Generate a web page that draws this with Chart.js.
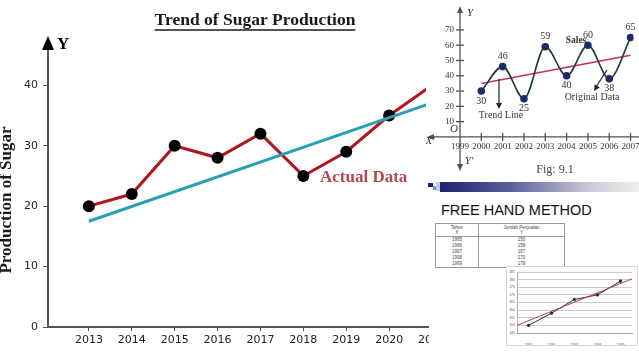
<!DOCTYPE html>
<html>
<head>
<meta charset="utf-8">
<script src="https://cdn.jsdelivr.net/npm/chart.js@4/dist/chart.umd.min.js"></script>
<style>
  html,body{margin:0;padding:0;background:#fff;}
  body{width:639px;height:360px;overflow:hidden;position:relative;}
  .abs{position:absolute;}
  #tbl{border-collapse:collapse;font-family:"Liberation Sans",Arial,sans-serif;font-size:4.5px;color:#444;width:130px;}
  #tbl td{padding:0;text-align:center;height:6px;line-height:6px;border-left:1px solid #999;border-right:1px solid #999;}
  #tbl tr.h td{height:12px;line-height:5.5px;border-top:1px solid #999;border-bottom:1px solid #999;}
  #tbl tr:last-child td{border-bottom:1px solid #999;}
</style>
</head>
<body>
<canvas id="c1" class="abs" width="460" height="360" style="left:0;top:0;"></canvas>
<canvas id="c2" class="abs" width="213" height="180" style="left:426px;top:0;background:#fff;"></canvas>
<div class="abs" style="left:426px;top:180px;width:213px;height:12px;background:#fff;"></div>
<div class="abs" style="left:440px;top:182px;width:199px;height:10px;background:linear-gradient(to right,#1c2272 0%,#5a5f9a 35%,#c9cad8 75%,#eeeeee 100%);"></div>
<div class="abs" style="left:428px;top:183px;width:5px;height:4px;background:#1c2272;"></div>
<div class="abs" style="left:433px;top:186px;width:4px;height:4px;background:#8a8fc0;"></div>
<div class="abs" style="left:436px;top:182px;width:4px;height:9px;background:#c9cbe6;"></div>
<div class="abs" style="left:429px;top:192px;width:210px;height:168px;background:#fff;"></div>
<div class="abs" style="left:441px;top:202px;font-family:'Liberation Sans',Arial,sans-serif;font-size:14.5px;color:#111;line-height:16px;">FREE HAND METHOD</div>
<table id="tbl" class="abs" style="left:435px;top:223px;"></table>
<canvas id="c3" class="abs" width="130" height="78" style="left:507px;top:267px;background:#fff;box-shadow:0 0 0 1px #d6d6d6;"></canvas>

<script>
// ---------- Main chart data ----------
const years = [2013, 2014, 2015, 2016, 2017, 2018, 2019, 2020, 2021];
const production = [20, 22, 30, 28, 32, 25, 29, 35, 40];
const trendYears = [2013, 2021];
const trendValues = [17.5, 37.1];
const yTickValues = [0, 10, 20, 30, 40];

// ---------- Fig 9.1 data ----------
const figYears = [2000, 2001, 2002, 2003, 2004, 2005, 2006, 2007];
const sales = [30, 46, 25, 59, 40, 60, 38, 65];
const figTrendYears = [2000, 2007];
const figTrendValues = [35, 53.5];
const figXTicks = [1999, 2000, 2001, 2002, 2003, 2004, 2005, 2006, 2007];
const figYTicks = [10, 20, 30, 40, 50, 60, 70];

// ---------- Free hand method data ----------
const fhYears = [1995, 1996, 1997, 1998, 1999];
const fhSales = [150, 158, 167, 170, 179];
const fhTrendYears = [1994.5, 1999.5];
const fhTrendValues = [150, 180.5];
const fhYTicks = [145, 150, 155, 160, 165, 170, 175, 180, 185];

// table
(function(){
  const t = document.getElementById('tbl');
  let html = '<tr class="h"><td style="width:42px">Tahun<br>X</td><td>Jumlah Penjualan<br>Y</td></tr>';
  fhYears.forEach((y,i)=>{ html += '<tr><td>'+y+'</td><td>'+fhSales[i]+'</td></tr>'; });
  t.innerHTML = html;
})();

const serif = '"Liberation Serif","Times New Roman",serif';

// ---------- Main chart ----------
const mainDeco = {
  id:'mainDeco',
  afterDraw(chart){
    const ctx = chart.ctx;
    const xs = chart.scales.x;
    ctx.save();
    // title
    ctx.font = 'bold 17.5px ' + serif;
    ctx.fillStyle = '#1a1a1a';
    ctx.textAlign = 'center'; ctx.textBaseline = 'middle';
    const title = 'Trend of Sugar Production';
    ctx.fillText(title, 255, 20);
    const w = ctx.measureText(title).width;
    ctx.strokeStyle = '#1a1a1a'; ctx.lineWidth = 1.5;
    ctx.beginPath(); ctx.moveTo(255 - w/2, 30); ctx.lineTo(255 + w/2, 30); ctx.stroke();
    // y-axis title
    ctx.save();
    ctx.translate(7, 200); ctx.rotate(-Math.PI/2);
    ctx.font = 'bold 17px ' + serif;
    ctx.fillText('Production of Sugar', 0, 0);
    ctx.restore();
    // arrow head + Y
    const ax = xs.left;
    ctx.fillStyle = '#000';
    ctx.beginPath(); ctx.moveTo(ax, 36); ctx.lineTo(ax - 6, 50); ctx.lineTo(ax + 6, 50); ctx.closePath(); ctx.fill();
    ctx.font = 'bold 17px ' + serif;
    ctx.textAlign = 'left';
    ctx.fillText('Y', 57, 45);
    // Actual Data label
    ctx.font = 'bold 17px ' + serif;
    ctx.fillStyle = '#b5484e';
    ctx.fillText('Actual Data', 320, 178);
    ctx.restore();
  }
};

new Chart(document.getElementById('c1'), {
  type: 'line',
  data: {
    datasets: [
      {
        label: 'Actual Data',
        data: years.map((x,i)=>({x, y: production[i]})),
        borderColor: '#b0161c', borderWidth: 3,
        pointRadius: 6, pointBackgroundColor: '#000', pointBorderColor: '#000', pointBorderWidth: 0,
        tension: 0, order: 2
      },
      {
        label: 'Trend',
        data: trendYears.map((x,i)=>({x, y: trendValues[i]})),
        borderColor: '#2c9fb2', borderWidth: 3, pointRadius: 0, tension: 0, order: 1
      }
    ]
  },
  options: {
    responsive: false, animation: false,
    layout: { padding: { top: 43, left: 0, right: 0, bottom: 0 } },
    plugins: { legend: { display: false }, tooltip: { enabled: false } },
    scales: {
      x: {
        type: 'linear', min: 2012.047, max: 2021.512,
        border: { display: true, color: '#555', width: 2 },
        grid: { display: true, drawOnChartArea: false, drawTicks: true, tickLength: 4, color: '#555' },
        ticks: { autoSkip: false, maxRotation: 0, padding: 3, color: '#222',
                 font: { family: 'DejaVu Sans', size: 11 }, callback: v => String(v) },
        afterBuildTicks: s => { s.ticks = years.map(v => ({ value: v })); },
        afterFit: s => { s.height = 33; s.paddingLeft = 0; s.paddingRight = 0; }
      },
      y: {
        min: 0, max: 47,
        border: { display: true, color: '#555', width: 2 },
        grid: { display: true, drawOnChartArea: false, drawTicks: true, tickLength: 5, color: '#555' },
        ticks: { padding: 5, color: '#222', font: { family: 'DejaVu Sans', size: 11 }, callback: v => String(v) },
        afterBuildTicks: s => { s.ticks = yTickValues.map(v => ({ value: v })); },
        afterFit: s => { s.width = 48; s.paddingTop = 0; s.paddingBottom = 0; }
      }
    }
  },
  plugins: [mainDeco]
});

// ---------- Fig 9.1 ----------
function arrowHead(ctx, x, y, dir, size){
  ctx.beginPath();
  if (dir === 'up'){ ctx.moveTo(x, y); ctx.lineTo(x-3, y+size); ctx.lineTo(x+3, y+size); }
  else if (dir === 'down'){ ctx.moveTo(x, y); ctx.lineTo(x-3, y-size); ctx.lineTo(x+3, y-size); }
  else if (dir === 'left'){ ctx.moveTo(x, y); ctx.lineTo(x+size, y-3); ctx.lineTo(x+size, y+3); }
  ctx.closePath(); ctx.fill();
}
const figAxes = {
  id:'figAxes',
  beforeDatasetsDraw(chart){
    const ctx = chart.ctx, xs = chart.scales.x, ys = chart.scales.y;
    const x0 = xs.getPixelForValue(1999), y0 = ys.getPixelForValue(0);
    ctx.save();
    ctx.strokeStyle = '#4d5060'; ctx.fillStyle = '#4d5060'; ctx.lineWidth = 1.3;
    ctx.beginPath(); ctx.moveTo(4, y0); ctx.lineTo(213, y0); ctx.stroke();
    ctx.beginPath(); ctx.moveTo(x0, 10); ctx.lineTo(x0, 167); ctx.stroke();
    arrowHead(ctx, x0, 6, 'up', 7);
    arrowHead(ctx, x0, 171, 'down', 7);
    arrowHead(ctx, 1, y0, 'left', 7);
    ctx.font = '9px ' + serif; ctx.fillStyle = '#333';
    ctx.textAlign = 'center'; ctx.textBaseline = 'middle';
    figXTicks.forEach(v => {
      const px = xs.getPixelForValue(v);
      if (v !== 1999){ ctx.beginPath(); ctx.moveTo(px, y0-4); ctx.lineTo(px, y0+4); ctx.stroke(); }
      ctx.fillText(String(v), px, y0 + 10);
    });
    ctx.textAlign = 'right';
    figYTicks.forEach(v => {
      const py = ys.getPixelForValue(v);
      ctx.beginPath(); ctx.moveTo(x0-4, py); ctx.lineTo(x0+4, py); ctx.stroke();
      ctx.fillText(String(v), x0 - 6, py);
    });
    ctx.restore();
  },
  afterDraw(chart){
    const ctx = chart.ctx, xs = chart.scales.x, ys = chart.scales.y;
    const x0 = xs.getPixelForValue(1999), y0 = ys.getPixelForValue(0);
    ctx.save();
    ctx.fillStyle = '#333'; ctx.textBaseline = 'middle'; ctx.textAlign = 'center';
    ctx.font = '10px ' + serif;
    sales.forEach((v,i) => {
      const prev = i>0 ? sales[i-1] : -Infinity, next = i<sales.length-1 ? sales[i+1] : -Infinity;
      const isPeak = v > prev && v > next || (i===0 ? false : v > prev);
      const px = xs.getPixelForValue(figYears[i]), py = ys.getPixelForValue(v);
      ctx.fillText(String(v), px, isPeak ? py - 10 : py + 10);
    });
    ctx.font = 'italic 11px ' + serif;
    ctx.fillText('Y', x0 + 10, 13);
    ctx.fillText('O', x0 - 6, y0 - 8);
    ctx.fillText("X'", 4, y0 + 4);
    ctx.fillText("Y'", x0 + 9, 161);
    ctx.font = 'bold 9.5px ' + serif;
    ctx.fillText('Sales', 150, 41);
    ctx.font = '10px ' + serif;
    ctx.fillText('Trend Line', 75, 115);
    ctx.fillText('Original Data', 166, 97);
    ctx.font = '12px ' + serif; ctx.fillStyle = '#444';
    ctx.fillText('Fig: 9.1', 129, 170);
    // arrows
    ctx.strokeStyle = '#222'; ctx.fillStyle = '#222'; ctx.lineWidth = 1.2;
    ctx.beginPath(); ctx.moveTo(73, 79); ctx.lineTo(73, 104); ctx.stroke();
    arrowHead(ctx, 73, 109, 'down', 6);
    ctx.beginPath(); ctx.moveTo(181, 70); ctx.lineTo(170, 87); ctx.stroke();
    ctx.save(); ctx.translate(168, 91); ctx.rotate(Math.atan2(17, -11) - Math.PI/2);
    ctx.beginPath(); ctx.moveTo(0,0); ctx.lineTo(-3,-6); ctx.lineTo(3,-6); ctx.closePath(); ctx.fill();
    ctx.restore();
    ctx.restore();
  }
};

new Chart(document.getElementById('c2'), {
  type: 'line',
  data: {
    datasets: [
      {
        data: figTrendYears.map((x,i)=>({x, y: figTrendValues[i]})),
        borderColor: '#c4305e', borderWidth: 1.5, pointRadius: 0, order: 2
      },
      {
        data: figYears.map((x,i)=>({x, y: sales[i]})),
        borderColor: '#1e3b2c', borderWidth: 1.6, cubicInterpolationMode: 'monotone',
        pointRadius: 3, pointBackgroundColor: '#1b2a6b', pointBorderColor: '#1b2a6b', order: 1
      }
    ]
  },
  options: {
    responsive: false, animation: false,
    layout: { padding: 0 },
    plugins: { legend: { display: false }, tooltip: { enabled: false } },
    scales: {
      x: { type: 'linear', display: false, min: 1997.667, max: 2007.133 },
      y: { display: false, min: -24.5, max: 85.9 }
    }
  },
  plugins: [figAxes]
});

// ---------- Free hand method chart ----------
new Chart(document.getElementById('c3'), {
  type: 'line',
  data: {
    datasets: [
      {
        data: fhTrendYears.map((x,i)=>({x, y: fhTrendValues[i]})),
        borderColor: '#b8404c', borderWidth: 1, pointRadius: 0
      },
      {
        data: fhYears.map((x,i)=>({x, y: fhSales[i]})),
        borderColor: '#1f2a5a', borderWidth: 1, pointRadius: 1.3,
        pointBackgroundColor: '#1f2a5a', pointBorderColor: '#1f2a5a'
      }
    ]
  },
  options: {
    responsive: false, animation: false,
    layout: { padding: { top: 5, right: 5, left: 0, bottom: 0 } },
    plugins: { legend: { display: false }, tooltip: { enabled: false } },
    scales: {
      x: {
        type: 'linear', min: 1994.5, max: 1999.5,
        border: { color: '#999', width: 0.8 },
        grid: { display: false },
        ticks: { autoSkip: false, maxRotation: 0, padding: 2, color: '#666', font: { size: 3.5 }, callback: v => String(v) },
        afterBuildTicks: s => { s.ticks = fhYears.map(v => ({ value: v })); },
        afterFit: s => { s.height = 12; s.paddingLeft = 0; s.paddingRight = 0; }
      },
      y: {
        min: 145, max: 185,
        border: { color: '#999', width: 0.8 },
        grid: { color: '#b5b5b5', lineWidth: 0.7, drawTicks: false },
        ticks: { padding: 2, color: '#666', font: { size: 3.5 }, callback: v => String(v) },
        afterBuildTicks: s => { s.ticks = fhYTicks.map(v => ({ value: v })); },
        afterFit: s => { s.width = 10; s.paddingTop = 0; s.paddingBottom = 0; }
      }
    }
  }
});
</script>
</body>
</html>
